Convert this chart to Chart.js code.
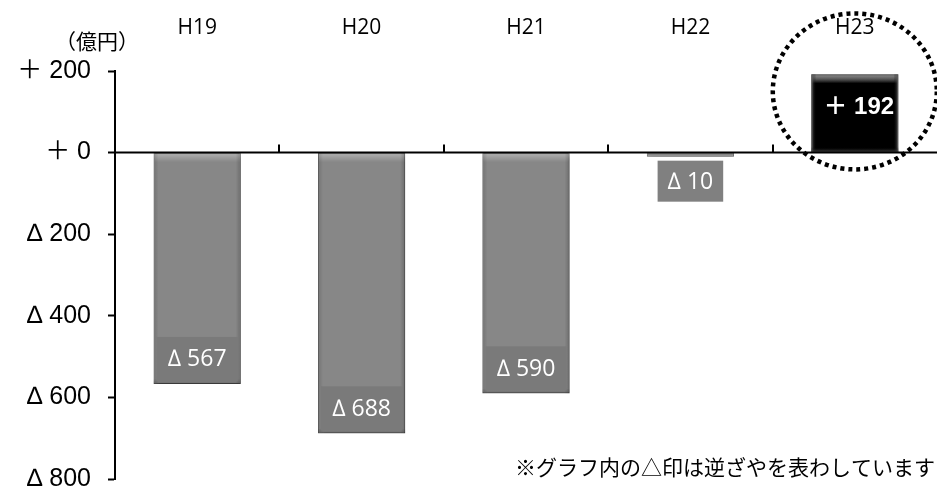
<!DOCTYPE html>
<html>
<head>
<meta charset="utf-8">
<script src="https://cdn.jsdelivr.net/npm/chart.js@4.4.1/dist/chart.umd.min.js"></script>
<style>
  html, body { margin: 0; background: #fff; }
  #wrap { width: 937px; height: 488px; }
</style>
</head>
<body>
<div id="wrap"><canvas id="c" width="937" height="488"></canvas></div>
<script>
var years = ['H19', 'H20', 'H21', 'H22', 'H23'];
var spread = [-567, -688, -590, -10, 192];
var yTicks = [200, 0, -200, -400, -600, -800];
var barColors = ['#878787', '#878787', '#878787', '#878787', '#000000'];
var unitLabel = '（億円）';
var note = '※グラフ内の△印は逆ざやを表わしています';
var highlightIndex = 4;

var latin = "'Liberation Sans', 'Noto Sans CJK JP', sans-serif";
var open = "'Open Sans', 'DejaVu Sans', sans-serif";
var jp = "'Noto Sans CJK JP', sans-serif";

// negative values carry a triangle, positive ones a full-width plus
function signed(v) {
    return v < 0 ? '∆ ' + (-v) : '＋ ' + v;
}

var barShadow = {
    id: 'barShadow',
    beforeDatasetsDraw: function(chart) {
        var ctx = chart.ctx;
        ctx.save();
        ctx.shadowColor = 'rgba(0,0,0,0.45)';
        ctx.shadowBlur = 5;
        ctx.shadowOffsetX = 1;
        ctx.shadowOffsetY = 3;
    },
    afterDatasetsDraw: function(chart) {
        chart.ctx.restore();
    }
};

var bevel = {
    id: 'bevel',
    afterDatasetsDraw: function(chart) {
        var ctx = chart.ctx;
        chart.getDatasetMeta(0).data.forEach(function(bar, i) {
            var l = bar.x - bar.width / 2, r = bar.x + bar.width / 2;
            var t = Math.min(bar.y, bar.base), b = Math.max(bar.y, bar.base);
            var h = b - t;
            if (h < 8) return;
            var dark = i === highlightIndex;
            ctx.save();
            var g = ctx.createLinearGradient(0, t, 0, t + 9);
            g.addColorStop(0, dark ? 'rgba(150,150,150,0.9)' : 'rgba(255,255,255,0.35)');
            g.addColorStop(1, 'rgba(255,255,255,0)');
            ctx.fillStyle = g;
            ctx.fillRect(l + 1, t + 1, r - l - 2, 9);
            var gl = ctx.createLinearGradient(l, 0, l + 5, 0);
            gl.addColorStop(0, dark ? 'rgba(110,110,110,0.8)' : 'rgba(0,0,0,0.15)');
            gl.addColorStop(1, 'rgba(0,0,0,0)');
            ctx.fillStyle = gl;
            ctx.fillRect(l, t, 5, h);
            var gr = ctx.createLinearGradient(r, 0, r - 5, 0);
            gr.addColorStop(0, dark ? 'rgba(110,110,110,0.8)' : 'rgba(0,0,0,0.2)');
            gr.addColorStop(1, 'rgba(0,0,0,0)');
            ctx.fillStyle = gr;
            ctx.fillRect(r - 5, t, 5, h);
            var gb = ctx.createLinearGradient(0, b, 0, b - 5);
            gb.addColorStop(0, dark ? 'rgba(90,90,90,0.8)' : 'rgba(0,0,0,0.2)');
            gb.addColorStop(1, 'rgba(0,0,0,0)');
            ctx.fillStyle = gb;
            ctx.fillRect(l, b - 5, r - l, 5);
            ctx.restore();
        });
    }
};

var axisAndLabels = {
    id: 'axisAndLabels',
    afterDatasetsDraw: function(chart) {
        var ctx = chart.ctx, area = chart.chartArea;
        var xs = chart.scales.x, ys = chart.scales.y;
        var y0 = ys.getPixelForValue(0);
        ctx.save();
        // zero line with category separators pointing up
        ctx.strokeStyle = '#000';
        ctx.lineWidth = 2;
        ctx.beginPath();
        ctx.moveTo(area.left, y0);
        ctx.lineTo(area.right, y0);
        for (var k = 0; k < years.length - 1; k++) {
            var sx = Math.round((xs.getPixelForValue(k) + xs.getPixelForValue(k + 1)) / 2);
            ctx.moveTo(sx, y0);
            ctx.lineTo(sx, y0 - 8);
        }
        ctx.stroke();

        // value labels
        chart.getDatasetMeta(0).data.forEach(function(bar, i) {
            var v = spread[i];
            var txt = signed(v);
            ctx.textAlign = 'center';
            ctx.textBaseline = 'middle';
            if (v >= 0) {
                ctx.font = 'bold 24px ' + latin;
                ctx.fillStyle = '#fff';
                ctx.fillText(txt, bar.x + 4, (bar.y + bar.base) / 2 - 6);
                return;
            }
            ctx.font = '23px ' + open;
            var tw = ctx.measureText(txt).width;
            var bh = 44, bw, by;
            if (bar.y - bar.base > bh + 10) {
                bw = bar.width - 6;
                by = bar.y - bh - 3;
                ctx.fillStyle = '#7a7a7a';
            } else {
                bw = tw + 20;
                by = bar.y + 4;
                bh = 41;
                ctx.fillStyle = '#808080';
            }
            ctx.fillRect(bar.x - bw / 2, by, bw, bh);
            ctx.fillStyle = '#fff';
            ctx.fillText(txt, bar.x, by + bh / 2 + 1);
        });
        ctx.restore();
    },
    afterDraw: function(chart) {
        var ctx = chart.ctx, xs = chart.scales.x, ys = chart.scales.y;
        ctx.save();
        ctx.fillStyle = '#000';
        ctx.textAlign = 'center';
        ctx.textBaseline = 'middle';
        ctx.font = '21px ' + open;
        years.forEach(function(y, i) {
            ctx.fillText(y, xs.getPixelForValue(i), 28);
        });
        ctx.font = '21px ' + jp;
        ctx.fillText(unitLabel, 97, 41);
        ctx.textAlign = 'right';
        ctx.font = '21px ' + jp;
        ctx.fillText(note, 935, 467);

        // dotted ring around the highlighted year
        ctx.strokeStyle = '#000';
        ctx.lineWidth = 4.5;
        ctx.setLineDash([4, 4]);
        ctx.beginPath();
        ctx.ellipse(xs.getPixelForValue(highlightIndex), ys.getPixelForValue(150), 82, 78, 0, 0, Math.PI * 2);
        ctx.stroke();
        ctx.restore();
    }
};

new Chart(document.getElementById('c'), {
    type: 'bar',
    data: {
        labels: years,
        datasets: [{
            data: spread,
            backgroundColor: barColors,
            borderColor: ['#6e6e6e', '#6e6e6e', '#6e6e6e', '#6e6e6e', '#222'],
            borderWidth: 1,
            categoryPercentage: 1,
            barPercentage: 0.53
        }]
    },
    options: {
        responsive: false,
        animation: false,
        devicePixelRatio: 1,
        layout: { padding: { top: 71, right: 0, bottom: 9, left: 0 } },
        plugins: { legend: { display: false }, tooltip: { enabled: false } },
        scales: {
            x: { display: false },
            y: {
                min: -800,
                max: 200,
                afterBuildTicks: function(scale) {
                    scale.ticks = yTicks.map(function(v) { return { value: v }; });
                },
                afterFit: function(scale) {
                    scale.width = 115;
                    scale.paddingTop = 0;
                    scale.paddingBottom = 0;
                },
                grid: { drawOnChartArea: false, tickLength: 7, tickColor: '#000', tickWidth: 2 },
                border: { color: '#000', width: 2 },
                ticks: {
                    color: '#000',
                    padding: 17,
                    font: { family: latin, size: 25 },
                    callback: function(v) { return signed(v); }
                }
            }
        }
    },
    plugins: [barShadow, bevel, axisAndLabels]
});
</script>
</body>
</html>
